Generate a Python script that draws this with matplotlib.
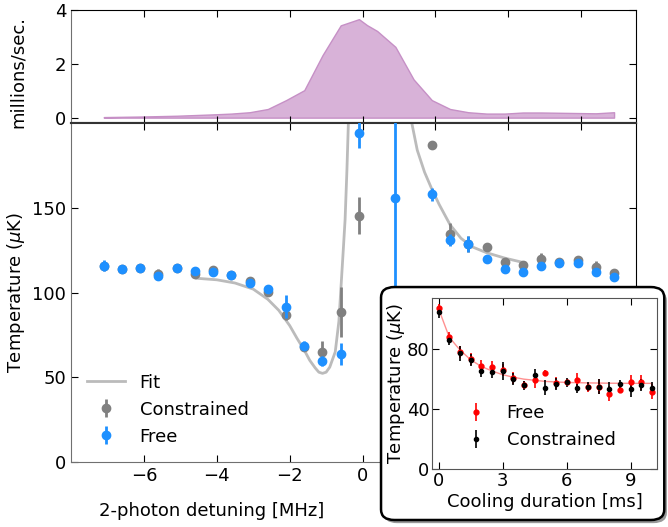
import numpy as np
import matplotlib
matplotlib.use("Agg")
import matplotlib.pyplot as plt
from matplotlib.patches import FancyBboxPatch

# --- top panel: fluorescence rate vs detuning ---
rate_x = [-7.1, -6.1, -5.1, -4.1, -3.6, -3.1, -2.6, -2.1, -1.6, -1.1, -0.6, -0.1,
          0.12, 0.4, 0.9, 1.4, 1.9, 2.4, 2.9, 3.4, 3.9, 4.4, 4.9, 5.4, 5.9, 6.4, 6.9]
rate_y = [0.02, 0.04, 0.07, 0.12, 0.15, 0.2, 0.32, 0.65, 1.02, 2.32, 3.43, 3.66,
          3.44, 3.22, 2.63, 1.42, 0.65, 0.32, 0.2, 0.15, 0.15, 0.19, 0.19, 0.18, 0.17, 0.16, 0.2]

# --- main panel: temperature vs detuning ---
det = [-7.1, -6.6, -6.1, -5.6, -5.1, -4.6, -4.1, -3.6, -3.1, -2.6, -2.1, -1.6, -1.1, -0.6,
       -0.1, 0.9, 1.9, 2.4, 2.9, 3.4, 3.9, 4.4, 4.9, 5.4, 5.9, 6.4, 6.9]
t_free = [115.9, 114.1, 114.5, 109.8, 114.5, 112.7, 112.1, 110.4, 105.7, 102.1, 91.7, 68.7, 59.4, 63.8,
          194.0, 155.7, 158.0, 131.0, 128.5, 119.6, 113.7, 112.1, 115.7, 117.7, 117.7, 112.3, 109.0]
t_free_err = [3.5, 1.5, 1.5, 2.5, 1.5, 1.5, 2.5, 1.5, 2.0, 2.0, 6.9, 2.5, 3.0, 6.6,
              9.0, 100.0, 3.8, 3.5, 4.7, 1.5, 1.5, 1.5, 1.5, 1.5, 2.0, 1.5, 1.5]
t_con = [115.5, 114.0, 114.3, 111.0, 114.5, 110.8, 113.3, 110.6, 106.7, 100.5, 86.8, 68.0, 64.7, 88.7,
         145.4, 205.0, 187.0, 134.4, 128.5, 127.1, 117.9, 116.3, 119.6, 117.9, 119.2, 115.3, 111.8]
t_con_err = [2.0, 1.5, 1.5, 3.0, 1.5, 2.0, 2.0, 1.5, 2.5, 2.0, 3.0, 2.5, 6.6, 14.8,
             11.0, 5.0, 1.5, 6.4, 4.7, 2.0, 2.0, 2.0, 4.0, 1.5, 1.5, 3.0, 2.0]

fit_x = [-4.55, -4.0, -3.5, -3.0, -2.6, -2.3, -2.0, -1.8, -1.6, -1.45, -1.3, -1.2, -1.1, -1.0,
         -0.9, -0.75, -0.65, -0.59, -0.53, -0.48, -0.43, -0.39, np.nan,
         1.35, 1.5, 1.7, 1.9, 2.1, 2.4, 2.7, 3.0, 3.4, 3.9, 4.45]
fit_y = [108.4, 107.5, 105.6, 102.0, 96.0, 89.5, 80.5, 73.0, 66.0, 60.0, 55.5, 53.0, 52.3, 53.0,
         56.0, 65.0, 83.0, 104.0, 125.0, 143.0, 172.0, 200.0, np.nan,
         200.0, 184.0, 171.0, 161.0, 152.0, 140.0, 132.0, 127.0, 123.5, 120.3, 117.5]

# --- inset: temperature vs cooling duration ---
dur = [0, 0.5, 1, 1.5, 2, 2.5, 3, 3.5, 4, 4.5, 5, 5.5, 6, 6.5, 7, 7.5, 8, 8.5, 9, 9.5, 10]
in_free = [107.3, 88.4, 78.4, 73.5, 69.0, 68.3, 66.1, 60.6, 56.1, 59.4, 64.3, 57.2, 57.9, 59.4,
           54.6, 55.0, 50.3, 52.8, 57.9, 57.9, 51.6]
in_free_err = [3, 3, 4, 4, 4, 4, 4, 4, 3, 5, 2, 4, 2, 5, 3, 5, 5, 2, 5, 5, 5]
in_con = [105.1, 86.1, 77.2, 73.0, 65.4, 64.6, 65.4, 60.0, 56.0, 62.8, 54.3, 56.6, 57.9, 53.9,
          55.0, 55.0, 53.4, 56.6, 53.2, 56.3, 53.9]
in_con_err = [4, 3, 5, 4, 4, 4, 6, 4, 3, 4, 5, 4, 3, 3, 3, 5, 5, 3, 5, 4, 4]
in_fit_x = [0, 0.5, 1, 1.5, 2, 2.5, 3, 3.5, 4, 5, 6, 7, 8, 9, 10]
in_fit_y = [107.0, 88.0, 79.5, 73.0, 68.5, 65.5, 63.0, 61.3, 60.0, 58.5, 57.8, 57.5, 57.3, 57.2, 57.2]

plt.rcParams['font.family'] = 'DejaVu Sans'
plt.rcParams['font.size'] = 13
plt.rcParams['xtick.direction'] = 'in'
plt.rcParams['ytick.direction'] = 'in'
plt.rcParams['xtick.major.size'] = 5
plt.rcParams['ytick.major.size'] = 5

fig = plt.figure(figsize=(6.68, 5.27), dpi=100)
ax_top = fig.add_axes([0.1063, 0.7666, 0.8457, 0.2144])
ax = fig.add_axes([0.1063, 0.1233, 0.8457, 0.6433])

ax_top.fill_between(rate_x, rate_y, 0, facecolor='#d8b2d8', edgecolor='#c690c6', lw=1)
ax_top.set_xlim(-8, 7.5)
ax_top.set_ylim(-0.2, 4)
ax_top.set_yticks([0, 2, 4])
ax_top.set_xticks([-6, -4, -2, 0, 2, 4, 6])
ax_top.tick_params(labelbottom=False, top=True, right=True)
ax_top.set_ylabel('millions/sec.')
ax_top.yaxis.set_label_coords(-0.078, 0.45)
ax_top.spines['left'].set_color('#707070')
ax_top.spines['bottom'].set_color('#333333')
ax_top.spines['bottom'].set_linewidth(1.5)

ax.plot(fit_x, fit_y, color='#bbbbbb', lw=2, label='Fit', zorder=1)
ax.errorbar(det, t_con, yerr=t_con_err, fmt='o', color='#808080', ms=6, elinewidth=2,
            capsize=0, label='Constrained', zorder=2)
ax.errorbar(det, t_free, yerr=t_free_err, fmt='o', color='#1e90ff', ms=6, elinewidth=2,
            capsize=0, label='Free', zorder=3)
ax.set_xlim(-8, 7.5)
ax.set_ylim(0, 200)
ax.set_yticks([0, 50, 100, 150])
ax.set_xticks([-6, -4, -2, 0, 2, 4, 6])
ax.tick_params(top=True, right=True)
ax.set_xlabel('2-photon detuning [MHz]')
ax.xaxis.set_label_coords(0.249, -0.118)
ax.set_ylabel(r'Temperature ($\mu$K)')
ax.yaxis.set_label_coords(-0.078, 0.5)
ax.spines['left'].set_color('#707070')
ax.spines['bottom'].set_color('#707070')
ax.spines['top'].set_color('#333333')
ax.spines['top'].set_linewidth(1.5)
ax.legend(loc='lower left', frameon=False, numpoints=1, handlelength=2.1,
          bbox_to_anchor=(0.0, 0.0), fontsize=13)

# inset box with a simple offset shadow
shadow = FancyBboxPatch((0.5744, 0.0073), 0.424, 0.442, boxstyle='round,pad=0.0,rounding_size=0.02',
                        transform=fig.transFigure, facecolor='#999999', edgecolor='none',
                        zorder=2.9)
box = FancyBboxPatch((0.5704, 0.0133), 0.424, 0.442, boxstyle='round,pad=0.0,rounding_size=0.02',
                     transform=fig.transFigure, facecolor='white', edgecolor='black', lw=1.8,
                     zorder=3)
fig.patches.append(shadow)
fig.patches.append(box)

ax_in = fig.add_axes([0.647, 0.110, 0.337, 0.324])
ax_in.set_zorder(4)
ax_in.plot(in_fit_x, in_fit_y, color='#ff9090', lw=1)
ax_in.errorbar(dur, in_free, yerr=in_free_err, fmt='o', color='red', ms=3.5, elinewidth=1.2,
               capsize=0, label='Free')
ax_in.errorbar(dur, in_con, yerr=in_con_err, fmt='o', color='black', ms=3, elinewidth=1.2,
               capsize=0, label='Constrained')
ax_in.set_xlim(-0.3, 10.25)
ax_in.set_ylim(0, 114)
ax_in.set_xticks([0, 3, 6, 9])
ax_in.set_yticks([0, 40, 80])
ax_in.tick_params(top=True, right=True, labelsize=13, pad=2)
ax_in.set_xlabel('Cooling duration [ms]', labelpad=2)
ax_in.set_ylabel(r'Temperature ($\mu$K)', labelpad=0)
for s in ax_in.spines.values():
    s.set_color('#555555')
ax_in.legend(loc='lower left', frameon=False, numpoints=1, handlelength=1.8,
             bbox_to_anchor=(0.05, 0.02), fontsize=13)

fig.savefig('out.png', dpi=100)
